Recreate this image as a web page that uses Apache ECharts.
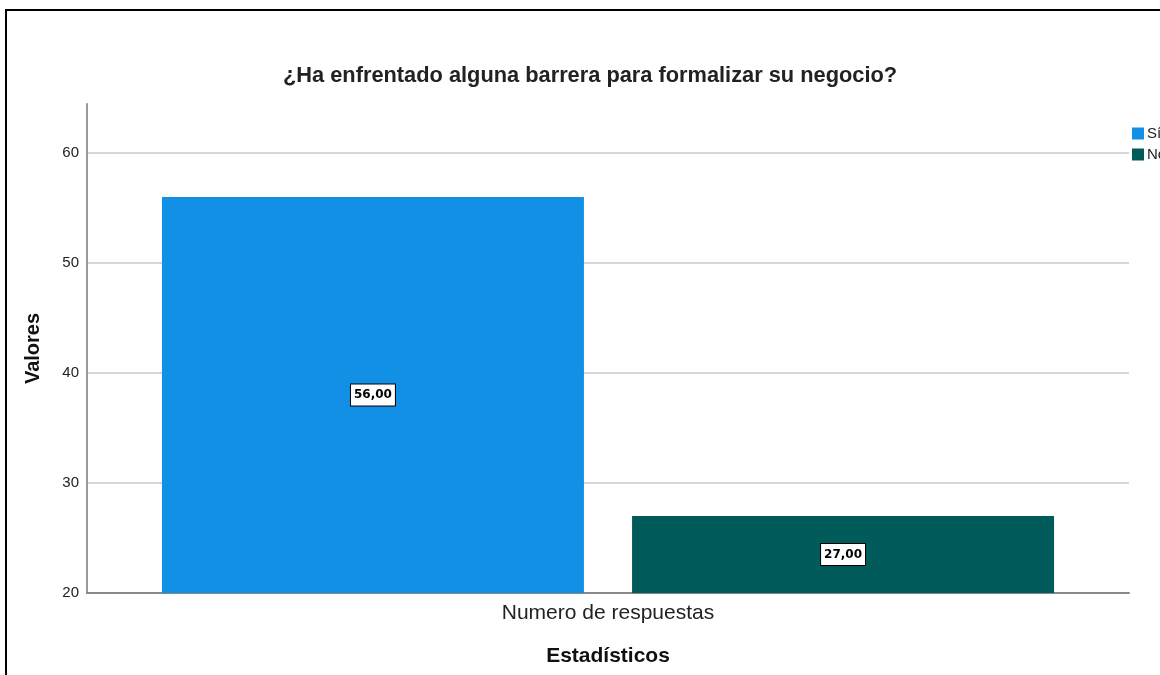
<!DOCTYPE html>
<html>
<head>
<meta charset="utf-8">
<script src="https://cdn.jsdelivr.net/npm/echarts@6/dist/echarts.min.js"></script>
<style>
  html, body { margin: 0; padding: 0; background: #fff; }
  #main { width: 1160px; height: 675px; }
</style>
</head>
<body>
<div id="main"></div>
<script>
var categories = ['Numero de respuestas'];
var seriesNames = ['Sí', 'No'];
var siValues = [56];
var noValues = [27];
var yTicks = { min: 20, max: 64.45, interval: 10 };

var myChart = echarts.init(document.getElementById('main'));

function fmt(p) {
	return p.value.toFixed(2).replace('.', ',');
}

var labelStyle = {
	show: true,
	position: 'inside',
	formatter: fmt,
	color: '#000',
	fontFamily: 'DejaVu Sans',
	fontWeight: 'bold',
	fontSize: 12,
	backgroundColor: '#fff',
	borderColor: '#000',
	borderWidth: 1,
	padding: [5, 3, 4, 3]
};

var option = {
	animation: false,
	backgroundColor: '#fff',
	title: {
		text: '¿Ha enfrentado alguna barrera para formalizar su negocio?',
		left: 278,
		top: 60,
		textStyle: { fontFamily: 'Liberation Sans', fontSize: 21.8, fontWeight: 'bold', color: '#222' }
	},
	legend: {
		orient: 'vertical',
		left: 1132,
		top: 126,
		padding: 0,
		icon: 'rect',
		itemWidth: 12,
		itemHeight: 12,
		itemGap: 6,
		data: seriesNames,
		textStyle: { fontFamily: 'Liberation Sans', fontSize: 15, lineHeight: 12, color: '#222', padding: [0, 0, 0, -2] }
	},
	graphic: [{
		type: 'rect',
		shape: { x: 6, y: 10, width: 1300, height: 800 },
		style: { fill: 'none', stroke: '#000', lineWidth: 2 },
		silent: true
	}],
	grid: { left: 87, right: 31, top: 104, bottom: 82, outerBoundsMode: 'none' },
	xAxis: {
		type: 'category',
		data: categories,
		name: 'Estadísticos',
		nameLocation: 'middle',
		nameGap: 53,
		nameTextStyle: { fontFamily: 'Liberation Sans', fontSize: 21, fontWeight: 'bold', color: '#111' },
		axisLine: { lineStyle: { color: '#888', width: 2 } },
		axisTick: { show: false },
		axisLabel: { margin: 10, fontFamily: 'Liberation Sans', fontSize: 21, color: '#222' }
	},
	yAxis: {
		type: 'value',
		min: yTicks.min,
		max: yTicks.max,
		interval: yTicks.interval,
		name: 'Valores',
		nameLocation: 'middle',
		nameGap: 44,
		nameTextStyle: { fontFamily: 'Liberation Sans', fontSize: 20, fontWeight: 'bold', color: '#111' },
		axisLine: { show: true, lineStyle: { color: '#999', width: 2 } },
		axisTick: { show: false },
		axisLabel: { margin: 8, showMaxLabel: false, fontFamily: 'Liberation Sans', fontSize: 15, color: '#222' },
		splitLine: { showMaxLine: false, lineStyle: { color: '#c8c8c8', width: 1.5 } }
	},
	series: [{
		name: seriesNames[0],
		type: 'bar',
		data: siValues,
		barWidth: 422,
		barGap: '11.4%',
		itemStyle: { color: '#1290e5' },
		label: labelStyle
	}, {
		name: seriesNames[1],
		type: 'bar',
		data: noValues,
		barWidth: 422,
		itemStyle: { color: '#025b5b' },
		label: labelStyle
	}]
};
myChart.setOption(option);
</script>
</body>
</html>
